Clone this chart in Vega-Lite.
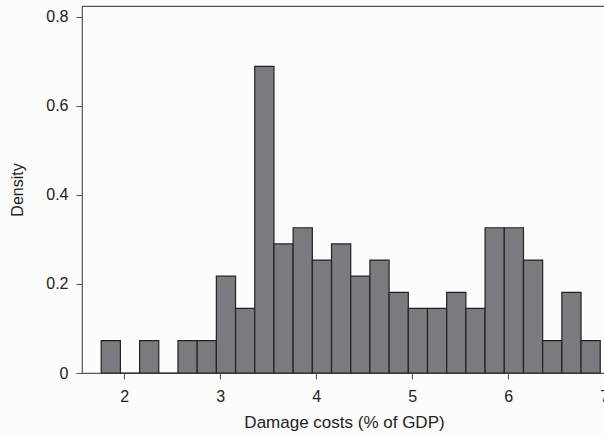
{
  "$schema": "https://vega.github.io/schema/vega-lite/v6.json",
  "autosize": "none",
  "width": 524,
  "height": 367,
  "padding": {"left": 82, "top": 6, "right": 0, "bottom": 63},
  "background": "#fcfcfc",
  "config": {
    "view": {"stroke": "#555555", "strokeWidth": 1.2},
    "font": "Liberation Sans",
    "axis": {
      "grid": false,
      "domain": false,
      "tickColor": "#555555",
      "tickSize": 6,
      "labelFontSize": 16,
      "labelColor": "#222222",
      "titleFontSize": 16,
      "titleFontWeight": "normal",
      "titleColor": "#222222"
    }
  },
  "data": {
    "values": [
      {"start": 1.76, "end": 1.96, "density": 0.0725},
      {"start": 1.96, "end": 2.16, "density": 0},
      {"start": 2.16, "end": 2.36, "density": 0.0725},
      {"start": 2.36, "end": 2.56, "density": 0},
      {"start": 2.56, "end": 2.76, "density": 0.0725},
      {"start": 2.76, "end": 2.96, "density": 0.0725},
      {"start": 2.96, "end": 3.16, "density": 0.2174},
      {"start": 3.16, "end": 3.36, "density": 0.1449},
      {"start": 3.36, "end": 3.56, "density": 0.6884},
      {"start": 3.56, "end": 3.76, "density": 0.2899},
      {"start": 3.76, "end": 3.96, "density": 0.3261},
      {"start": 3.96, "end": 4.16, "density": 0.2536},
      {"start": 4.16, "end": 4.36, "density": 0.2899},
      {"start": 4.36, "end": 4.56, "density": 0.2174},
      {"start": 4.56, "end": 4.76, "density": 0.2536},
      {"start": 4.76, "end": 4.96, "density": 0.1812},
      {"start": 4.96, "end": 5.16, "density": 0.1449},
      {"start": 5.16, "end": 5.36, "density": 0.1449},
      {"start": 5.36, "end": 5.56, "density": 0.1812},
      {"start": 5.56, "end": 5.76, "density": 0.1449},
      {"start": 5.76, "end": 5.96, "density": 0.3261},
      {"start": 5.96, "end": 6.16, "density": 0.3261},
      {"start": 6.16, "end": 6.36, "density": 0.2536},
      {"start": 6.36, "end": 6.56, "density": 0.0725},
      {"start": 6.56, "end": 6.76, "density": 0.1812},
      {"start": 6.76, "end": 6.96, "density": 0.0725}
    ]
  },
  "mark": {"type": "rect", "fill": "#7a7b7e", "stroke": "#222222", "strokeWidth": 1.2},
  "encoding": {
    "x": {
      "field": "start",
      "type": "quantitative",
      "scale": {"domain": [1.56, 7.02], "nice": false, "zero": false},
      "axis": {"values": [2, 3, 4, 5, 6, 7], "title": "Damage costs (% of GDP)", "titleFontSize": 17, "labelPadding": 9, "titlePadding": 10}
    },
    "x2": {"field": "end"},
    "y": {
      "field": "density",
      "type": "quantitative",
      "scale": {"domain": [0, 0.824], "nice": false},
      "axis": {"values": [0, 0.2, 0.4, 0.6, 0.8], "title": "Density", "labelPadding": 8, "titlePadding": 20, "labelExpr": "datum.value == 0 ? '0' : format(datum.value, '.1f')"}
    }
  }
}
